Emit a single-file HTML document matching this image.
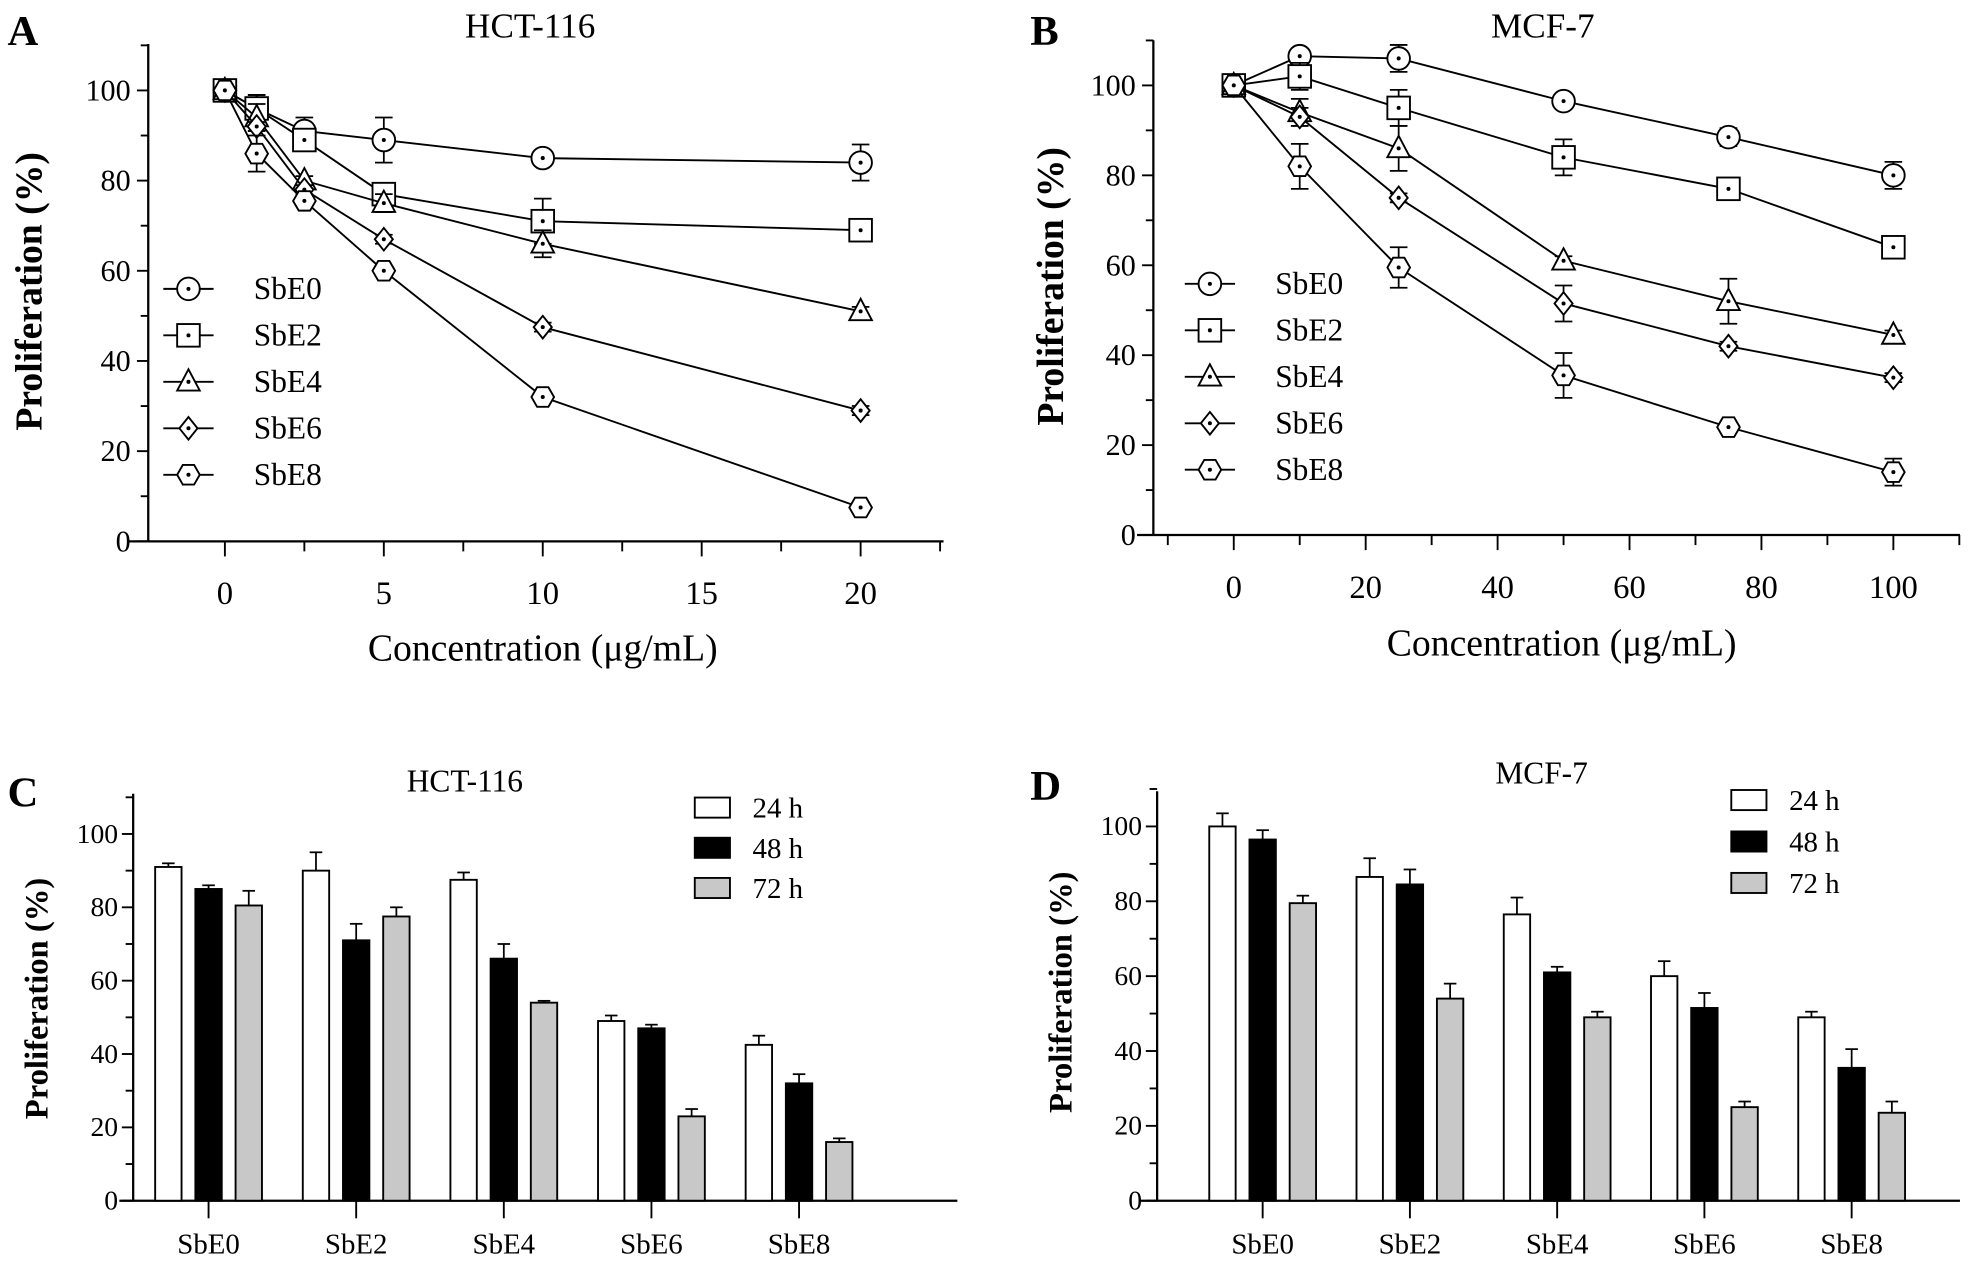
<!DOCTYPE html>
<html><head><meta charset="utf-8">
<style>
html,body{margin:0;padding:0;background:#fff;}
svg, svg text{font-family:"Liberation Serif","Times New Roman",serif;}
</style></head>
<body>
<svg id="fig" width="1970" height="1261" viewBox="0 0 1568 1004" preserveAspectRatio="none" font-family="Liberation Serif, serif" xmlns="http://www.w3.org/2000/svg"></svg>
<script>
// ---------- Panel A data ----------
const concA = [0, 1, 2.5, 5, 10, 20];
const aSbE0 = [100, 96, 91, 89, 85, 84];
const aSbE2 = [100, 96, 89, 77, 71, 69];
const aSbE4 = [100, 94, 80, 75, 66, 51];
const aSbE6 = [100, 92, 78, 67, 47.5, 29];
const aSbE8 = [100, 86, 75.5, 60, 32, 7.5];
const aErr0 = [0, 3, 3, 5, 1, 4];
const aErr2 = [0, 3, 2, 2, 5, 1];
const aErr4 = [0, 3, 1, 2, 3, 1];
const aErr6 = [1, 1, 1, 1, 1, 1];
const aErr8 = [0, 4, 1, 1, 1, 1];
const xTicksA = [0, 5, 10, 15, 20];
// ---------- Panel B data ----------
const concB = [0, 10, 25, 50, 75, 100];
const bSbE0 = [100, 106.5, 106, 96.5, 88.5, 80];
const bSbE2 = [100, 102, 95, 84, 77, 64];
const bSbE4 = [100, 94, 86, 61, 52, 44.5];
const bSbE6 = [100, 93, 75, 51.5, 42, 35];
const bSbE8 = [100, 82, 59.5, 35.5, 24, 14];
const bErr0 = [0, 1, 3, 1, 2, 3];
const bErr2 = [0, 3, 4, 4, 2, 2];
const bErr4 = [0, 3, 5, 1, 5, 1];
const bErr6 = [0, 2, 1, 4, 1, 1];
const bErr8 = [0, 5, 4.5, 5, 1, 3];
const xTicksB = [0, 20, 40, 60, 80, 100];
const yTicks = [0, 20, 40, 60, 80, 100];
const seriesNames = ["SbE0", "SbE2", "SbE4", "SbE6", "SbE8"];
const markerTypes = ["circle", "square", "triangle", "diamond", "hexagon"];
// ---------- Panel C/D data ----------
const groups = ["SbE0", "SbE2", "SbE4", "SbE6", "SbE8"];
const timeLabels = ["24 h", "48 h", "72 h"];
const c24 = [91, 90, 87.5, 49, 42.5];
const c48 = [85, 71, 66, 47, 32];
const c72 = [80.5, 77.5, 54, 23, 16];
const c24e = [1, 5, 2, 1.5, 2.5];
const c48e = [1, 4.5, 4, 1, 2.5];
const c72e = [4, 2.5, 0.5, 2, 1];
const d24 = [100, 86.5, 76.5, 60, 49];
const d48 = [96.5, 84.5, 61, 51.5, 35.5];
const d72 = [79.5, 54, 49, 25, 23.5];
const d24e = [3.5, 5, 4.5, 4, 1.5];
const d48e = [2.5, 4, 1.5, 4, 5];
const d72e = [2, 4, 1.5, 1.5, 3];

const NS = "http://www.w3.org/2000/svg";
const svg = document.getElementById("fig");
const FF = '"Liberation Serif", "Times New Roman", serif';
function el(tag, attrs, parent, text){
  const e = document.createElementNS(NS, tag);
  for (const k in attrs) e.setAttribute(k, attrs[k]);
  if (tag === "text") e.style.fontFamily = FF;
  if (text !== undefined) e.textContent = text;
  (parent || svg).appendChild(e);
  return e;
}
function line(g,x1,y1,x2,y2,w){ return el("line",{x1,y1,x2,y2,stroke:"#000","stroke-width":w||1.6},g); }

function marker(g, type, x, y){
  const s = 9;
  let m;
  if (type==="circle") m = el("circle",{cx:x,cy:y,r:s,fill:"#fff",stroke:"#000","stroke-width":1.5},g);
  else if (type==="square") m = el("rect",{x:x-s,y:y-s,width:2*s,height:2*s,fill:"#fff",stroke:"#000","stroke-width":1.5},g);
  else if (type==="triangle") m = el("polygon",{points:`${x},${y-s-1} ${x-s},${y+s-2} ${x+s},${y+s-2}`,fill:"#fff",stroke:"#000","stroke-width":1.5},g);
  else if (type==="diamond") m = el("polygon",{points:`${x},${y-s} ${x+s*0.8},${y} ${x},${y+s} ${x-s*0.8},${y}`,fill:"#fff",stroke:"#000","stroke-width":1.5},g);
  else { let p=[]; for(let i=0;i<6;i++){const a=Math.PI/3*i; p.push((x+s*Math.cos(a)).toFixed(1)+","+(y+s*Math.sin(a)).toFixed(1));}
    m = el("polygon",{points:p.join(" "),fill:"#fff",stroke:"#000","stroke-width":1.5},g); }
  el("circle",{cx:x,cy:y,r:1.6,fill:"#000"},g);
  return m;
}

function linePanel(cfg){
  const g = el("g",{});
  
  
  const X = v => cfg.x0 + (v - cfg.xmin) * (cfg.x1 - cfg.x0) / (cfg.xmax - cfg.xmin);
  const Y = v => cfg.y0 - v * (cfg.y0 - cfg.y100) / 100;
  const ya = line(g, cfg.ax, cfg.atop, cfg.ax, cfg.y0, 1.8);
   
  const xa = line(g, cfg.axl, cfg.y0, cfg.axr, cfg.y0, 1.8);
   
  for (let v=0; v<=110; v+=10){
    line(g, cfg.ax - (v%20===0?9:6), Y(v), cfg.ax, Y(v), 1.5);
  }
  yTicks.forEach(v=>{
    const t = el("text",{x:cfg.ax-14,y:Y(v)+8,"text-anchor":"end","font-size":24},g,String(v));
     
  });
  cfg.minor.forEach(v=> line(g, X(v), cfg.y0, X(v), cfg.y0+8, 1.5));
  cfg.xticks.forEach(v=>{
    line(g, X(v), cfg.y0, X(v), cfg.y0+12, 1.5);
    const t = el("text",{x:X(v),y:cfg.y0+50,"text-anchor":"middle","font-size":26},g,String(v));
     
  });
  const yl = el("text",{transform:`translate(${cfg.ylx},${cfg.yly}) rotate(-90)`,"text-anchor":"middle","font-size":30,"font-weight":"bold"},g,"Proliferation (%)");
   
  const xl = el("text",{x:cfg.xlx,y:cfg.xly,"text-anchor":"middle","font-size":30},g,"Concentration (\u03bcg/mL)");
   
  const ti = el("text",{x:cfg.tx,y:30,"text-anchor":"middle","font-size":28},g,cfg.title);
   
  const pl = el("text",{x:cfg.px,y:36,"font-size":34,"font-weight":"bold"},g,cfg.letter);
   
  cfg.series.forEach((vals, si)=>{
    const sg = el("g",{},g);
    
    
    const pts = vals.map((v,i)=>X(cfg.conc[i]).toFixed(1)+","+Y(v).toFixed(1)).join(" ");
    el("polyline",{points:pts,fill:"none",stroke:"#000","stroke-width":1.5},sg);
    vals.forEach((v,i)=>{
      const e = cfg.errs[si][i];
      if (e>0){
        const x = X(cfg.conc[i]);
        line(sg, x, Y(v+e), x, Y(v-e), 1.4);
        line(sg, x-7, Y(v+e), x+7, Y(v+e), 1.4);
        line(sg, x-7, Y(v-e), x+7, Y(v-e), 1.4);
      }
    });
    vals.forEach((v,i)=>{
      const m = marker(sg, markerTypes[si], X(cfg.conc[i]), Y(v));
      
      
    });
    const ly = cfg.ly + si*cfg.lstep;
    const lg = el("g",{},g);
    
    
    line(lg, cfg.lx-20, ly, cfg.lx+20, ly, 1.5);
    marker(lg, markerTypes[si], cfg.lx, ly);
    el("text",{x:cfg.lx+52,y:ly+8,"font-size":25},lg,seriesNames[si]);
  });
}

linePanel({name:"panel-a-line-chart",x0:179,x1:685,xmin:0,xmax:20,y0:431,y100:72,ax:118,atop:35,axl:103,axr:751,
  minor:[2.5,7.5,12.5,17.5,22.5],xticks:xTicksA,conc:concA,
  series:[aSbE0,aSbE2,aSbE4,aSbE6,aSbE8],errs:[aErr0,aErr2,aErr4,aErr6,aErr8],
  ylx:33,yly:232,xlx:432,xly:526,tx:422,title:"HCT-116",px:6,letter:"A",lx:150,ly:230,lstep:37});
linePanel({name:"panel-b-line-chart",x0:982,x1:1507,xmin:0,xmax:100,y0:426,y100:68,ax:918,atop:32,axl:905,axr:1560,
  minor:[-10,10,30,50,70,90,110],xticks:xTicksB,conc:concB,
  series:[bSbE0,bSbE2,bSbE4,bSbE6,bSbE8],errs:[bErr0,bErr2,bErr4,bErr6,bErr8],
  ylx:846,yly:228,xlx:1243,xly:522,tx:1228,title:"MCF-7",px:820,letter:"B",lx:963,ly:226,lstep:37});

function barPanel(cfg){
  const g = el("g",{});
  
  
  const Y = v => cfg.y0 - v * (cfg.y0 - cfg.y100) / 100;
  const ya = line(g, cfg.ax, cfg.atop, cfg.ax, cfg.y0, 1.8);
   
  const xa = line(g, cfg.axl, cfg.y0, cfg.axr, cfg.y0, 1.8);
   
  for (let v=0; v<=110; v+=10) line(g, cfg.ax-(v%20===0?9:6), Y(v), cfg.ax, Y(v), 1.5);
  yTicks.forEach(v=>{
    const t = el("text",{x:cfg.ax-12,y:Y(v)+7,"text-anchor":"end","font-size":22},g,String(v));
     
  });
  const yl = el("text",{transform:`translate(${cfg.ylx},${cfg.yly}) rotate(-90)`,"text-anchor":"middle","font-size":26,"font-weight":"bold"},g,"Proliferation (%)");
   
  const ti = el("text",{x:cfg.tx,y:cfg.ty,"text-anchor":"middle","font-size":25},g,cfg.title);
   
  const pl = el("text",{x:cfg.px,y:cfg.py,"font-size":34,"font-weight":"bold"},g,cfg.letter);
   
  const fills = ["#fff","#000","#c8c8c8"];
  const step = 32, bw = 21;
  groups.forEach((name, gi)=>{
    const cx = cfg.gx0 + gi*cfg.gstep;
    line(g, cx, cfg.y0, cx, cfg.y0+14, 1.5);
    const t = el("text",{x:cx,y:cfg.y0+42,"text-anchor":"middle","font-size":23},g,name);
     
    cfg.vals.forEach((arr, si)=>{
      const v = arr[gi], e = cfg.errs[si][gi];
      const x = cx + (si-1)*step - bw/2;
      const bx = x + bw/2;
      line(g, bx, Y(v), bx, Y(v+e), 1.4);
      line(g, bx-5, Y(v+e), bx+5, Y(v+e), 1.4);
      const r = el("rect",{x:x,y:Y(v),width:bw,height:cfg.y0-Y(v),fill:fills[si],stroke:"#000","stroke-width":1.5},g);
      
      
    });
  });
  timeLabels.forEach((lab, si)=>{
    const lg = el("g",{},g);
    
    
    const ly = cfg.ly + si*cfg.lstep;
    el("rect",{x:cfg.lx,y:ly-8,width:28,height:16,fill:fills[si],stroke:"#000","stroke-width":1.5},lg);
    el("text",{x:cfg.lx+46,y:ly+8,"font-size":23},lg,lab);
  });
}
barPanel({name:"panel-c-bar-chart",y0:956,y100:664,ax:106,atop:632,axl:95,axr:762,ylx:38,yly:795,
  tx:370,ty:630,title:"HCT-116",px:6,py:642,letter:"C",gx0:166,gstep:117.5,
  vals:[c24,c48,c72],errs:[c24e,c48e,c72e],lx:553,ly:643,lstep:32});
barPanel({name:"panel-d-bar-chart",y0:956,y100:658,ax:921,atop:630,axl:908,axr:1560,ylx:853,yly:790,
  tx:1227,ty:624,title:"MCF-7",px:820,py:637,letter:"D",gx0:1005,gstep:117.2,
  vals:[d24,d48,d72],errs:[d24e,d48e,d72e],lx:1378,ly:637,lstep:33});
</script>
</body></html>
